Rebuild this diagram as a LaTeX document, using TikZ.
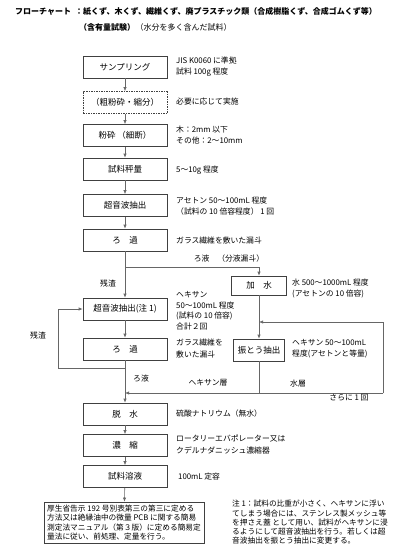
\documentclass[tikz,border=0pt]{standalone}
\usepackage{fontspec}
\setmainfont{Noto Sans CJK JP}
\usetikzlibrary{arrows.meta}
\begin{document}
\begin{tikzpicture}[x=1pt,y=-1pt,
  box/.style={draw=black!75, line width=0.6pt, minimum width=84pt, minimum height=22pt, inner sep=0pt, font=\fontsize{8.5}{10}\selectfont},
  sbox/.style={box, minimum width=53pt},
  ann/.style={anchor=west, inner sep=0pt, font=\fontsize{7.8}{9}\selectfont},
  lab/.style={inner sep=0pt, font=\fontsize{7.8}{9}\selectfont},
  conn/.style={draw=black!60, line width=0.6pt},
  arr/.style={conn, -{Latex[length=4pt,width=3.2pt]}},
]
\useasboundingbox (0,0) rectangle (405,557);
\fill[white] (0,0) rectangle (405,557);

% title
\node[anchor=west, inner sep=0pt, font=\fontsize{8}{9}\selectfont\bfseries] (t1) at (15,12) {フローチャート};
\node[anchor=west, inner sep=0pt, font=\fontsize{8}{9}\selectfont\bfseries] (t2) at (75,12) {：紙くず、木くず、繊維くず、廃プラスチック類（合成樹脂くず、合成ゴムくず等）};
\node[anchor=west, inner sep=0pt, font=\fontsize{8}{9}\selectfont\bfseries] (t3) at (79,27) {（含有量試験）};
\node[anchor=west, inner sep=0pt, font=\fontsize{8}{9}\selectfont] (t4) at (t3.east) {（水分を多く含んだ試料）};

% main column
\node[box] (samp) at (125,67) {サンプリング};
\node[box, dash pattern=on 2pt off 1.2pt on 0.6pt off 1.2pt] (coarse) at (125,102.5) {（粗粉砕・縮分）};
\node[box] (crush) at (125,135.5) {粉砕 （細断）};
\node[box] (weigh) at (125,169) {試料秤量};
\node[box] (ultra1) at (125,205.5) {超音波抽出};
\node[box] (filt1) at (125,240) {ろ　過};
\node[box] (ultra2) at (125,309) {超音波抽出(注 1)};
\node[box] (filt2) at (125,349) {ろ　過};
\node[box] (dehyd) at (125,414) {脱　水};
\node[box] (conc) at (125,445.5) {濃　縮};
\node[box] (soln) at (125,476.5) {試料溶液};
\node[draw=black!75, line width=0.6pt, minimum width=160pt, minimum height=41pt, inner sep=0pt, align=left, font=\fontsize{7.7}{9.2}\selectfont] (final) at (124,522.5)
 {厚生省告示 192 号別表第三の第三に定める\\方法又は絶縁油中の微量 PCB に関する簡易\\測定法マニュアル（第３版）に定める簡易定\\量法に従い、前処理、定量を行う。};

% right column
\node[sbox, minimum width=55pt, minimum height=19pt] (water) at (259,285.5) {加　水};
\node[sbox, minimum width=51pt] (shake) at (259,350) {振とう抽出};

% coordinates
\coordinate (br) at (125,267);
\coordinate (brR) at (259,267);
\coordinate (lp1) at (125,368);
\coordinate (lp2) at (58,368);
\coordinate (lp3) at (58,309);
\coordinate (mg) at (125,393);
\coordinate (sb) at (259,393);
\coordinate (rb) at (383,393);
\coordinate (rt) at (383,322);
\coordinate (rin) at (259,322);

% connectors
\draw[arr] (samp) -- (coarse);
\draw[arr] (coarse) -- (crush);
\draw[arr] (crush) -- (weigh);
\draw[arr] (weigh) -- (ultra1);
\draw[arr] (ultra1) -- (filt1);
\draw[arr] (filt1) -- (ultra2);
\draw[conn] (br) -- (brR);
\draw[arr] (brR) -- (water);
\draw[arr] (water) -- (shake);
\draw[arr] (ultra2) -- (filt2);
\draw[arr] (filt2) -- (dehyd);
\draw[conn] (lp1) -- (lp2) -- (lp3);
\draw[arr] (lp3) -- (ultra2.west);
\draw[conn] (shake) -- (sb);
\draw[arr] (rb) -- (mg);
\draw[conn] (rb) -- (rt);
\draw[arr] (rt) -- (rin);
\draw[arr] (dehyd) -- (conc);
\draw[arr] (conc) -- (soln);
\draw[arr] (soln) -- (final);

% annotations
\node[ann] (a1) at (176,61) {JIS K0060 に準拠};
\node[ann] (a2) at (176,72) {試料 100g 程度};
\node[ann] (a3) at (176,102) {必要に応じて実施};
\node[ann] (a4) at (176,130) {木：2mm 以下};
\node[ann] (a5) at (176,141) {その他：2～10mm};
\node[ann] (a6) at (176,170) {5～10g 程度};
\node[ann] (a7) at (176,201) {アセトン  50～100mL 程度};
\node[ann] (a8) at (176,212) {（試料の 10 倍容程度） 1 回};
\node[ann] (a9) at (176,241) {ガラス繊維を敷いた漏斗};
\node[lab] (l1) at (229,259) {ろ液　（分液漏斗）};
\node[lab] (l2) at (108,283) {残渣};
\node[ann] (a10) at (176,295) {ヘキサン};
\node[ann] (a11) at (176,305.5) {50～100mL 程度};
\node[ann] (a12) at (176,316) {(試料の 10 倍容)};
\node[ann] (a13) at (176,327) {合計２回};
\node[lab] (l3) at (38,335) {残渣};
\node[ann] (a14) at (176,343) {ガラス繊維を};
\node[ann] (a15) at (176,355) {敷いた漏斗};
\node[ann] (a16) at (292,283) {水 500～1000mL 程度};
\node[ann] (a17) at (292,294) {(アセトンの 10 倍容)};
\node[ann] (a18) at (292,343) {ヘキサン  50～100mL};
\node[ann] (a19) at (292,354) {程度(アセトンと等量)};
\node[lab] (l4) at (141,379) {ろ液};
\node[lab] (l5) at (208,383) {ヘキサン層};
\node[lab] (l6) at (298,384) {水層};
\node[lab] (l7) at (349,398) {さらに 1 回};
\node[ann] (a20) at (176,414) {硫酸ナトリウム（無水）};
\node[ann] (a21) at (176,439) {ロータリーエバポレーター又は};
\node[ann] (a22) at (176,450) {クデルナダニッシュ濃縮器};
\node[ann] (a23) at (178,477) {100mL 定容};
\node[anchor=north west, inner sep=0pt, align=left, font=\fontsize{7.7}{9.3}\selectfont] (note) at (232,500)
 {注 1：試料の比重が小さく、ヘキサンに浮い\\てしまう場合には、ステンレス製メッシュ等\\を押さえ蓋 として用い、試料がヘキサンに浸\\るようにして超音波抽出を行う。若しくは超\\音波抽出を振とう抽出に変更する。};
\end{tikzpicture}
\end{document}
